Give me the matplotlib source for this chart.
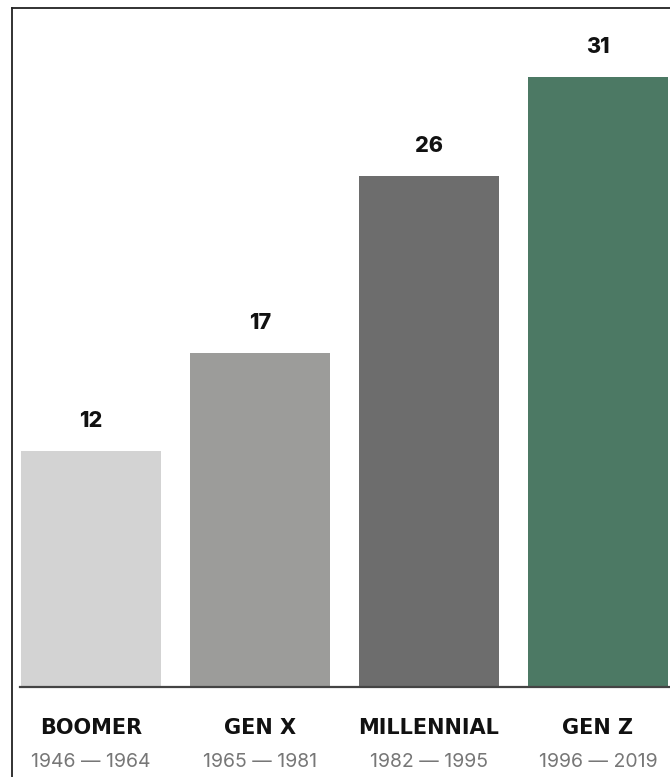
import matplotlib
matplotlib.use("Agg")
import matplotlib.pyplot as plt
from matplotlib.lines import Line2D
import matplotlib.transforms as mtrans

categories = ["BOOMER", "GEN X", "MILLENNIAL", "GEN Z"]
years = ["1946 — 1964", "1965 — 1981", "1982 — 1995", "1996 — 2019"]
values = [12, 17, 26, 31]
colors = ["#d3d3d3", "#9c9c9a", "#6d6d6d", "#4c7964"]

W, H = 670, 777
fig = plt.figure(figsize=(W / 100, H / 100), dpi=100)
fig.patch.set_facecolor("white")

left, right, bottom, top = 20, 670, 687, 7
ax = fig.add_axes([left / W, 1 - bottom / H, (right - left) / W, (bottom - top) / H])
ax.set_facecolor("none")

x = [0, 1, 2, 3]
ax.bar(x, values, width=0.834, color=colors, zorder=2)
ax.set_xlim(-0.42, 3.426)
ax.set_ylim(0, 34.57)

for s in ["top", "left", "right"]:
    ax.spines[s].set_visible(False)
ax.spines["bottom"].set_color("#444444")
ax.spines["bottom"].set_linewidth(1.6)
ax.spines["bottom"].set_zorder(3)
ax.set_xticks([])
ax.set_yticks([])

fam = ["Inter", "DejaVu Sans"]
for xi, v in zip(x, values):
    ax.annotate(str(v), (xi, v), xytext=(0, 30), textcoords="offset pixels",
                ha="center", va="center", fontsize=15.5, fontweight="heavy",
                family=fam, color="#111111")

trans = mtrans.blended_transform_factory(ax.transData, ax.transAxes)
for xi, c, yr in zip(x, categories, years):
    ax.annotate(c, (xi, 0), xycoords=trans, xytext=(0, -41), textcoords="offset pixels",
                ha="center", va="center", fontsize=15, fontweight="bold",
                family=["DejaVu Sans"], color="#111111")
    ax.annotate(yr, (xi, 0), xycoords=trans, xytext=(0, -75), textcoords="offset pixels",
                ha="center", va="center", fontsize=14, family=fam, color="#777777")

# border lines (left and top)
bx, by = 11.5, 7.5
fig.add_artist(Line2D([bx / W, bx / W], [0, 1 - by / H], transform=fig.transFigure,
                      color="#222222", linewidth=1.3))
fig.add_artist(Line2D([bx / W, 1], [1 - by / H, 1 - by / H], transform=fig.transFigure,
                      color="#222222", linewidth=1.3))

fig.savefig("out.png", dpi=100, facecolor="white")
